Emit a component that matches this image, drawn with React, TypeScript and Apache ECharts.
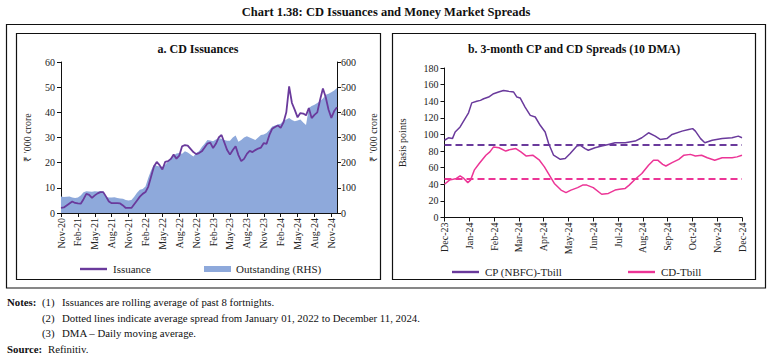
import React, { useEffect, useRef } from "react";
import * as echarts from "echarts";

// ---------- Panel a: CD Issuances (fortnightly, from Nov-20) ----------
const ticksA = ["Nov-20","Feb-21","May-21","Aug-21","Nov-21","Feb-22","May-22","Aug-22","Nov-22","Feb-23","May-23","Aug-23","Nov-23","Feb-24","May-24","Aug-24","Nov-24"];
const issuance = [2.0,2.2,3.0,3.8,4.6,4.0,3.8,3.7,5.5,7.6,
  7.2,6.0,7.0,7.8,8.3,8.3,6.5,4.6,3.9,3.9,
  3.9,3.8,3.0,2.0,2.0,2.0,3.5,5.0,6.5,7.6,
  8.3,10.5,14.5,18.5,20.3,19.0,17.3,20.3,20.6,21.5,
  23.2,21.6,22.8,26.5,27.0,26.8,25.5,24.2,23.4,23.8,
  24.5,26.0,27.6,28.0,25.8,27.5,30.0,31.0,28.0,25.0,
  23.2,25.0,26.5,23.0,20.6,21.5,23.5,24.7,24.2,25.0,
  25.6,26.0,27.8,27.5,31.0,33.5,34.2,34.8,33.8,36.0,
  40.0,50.3,43.7,41.0,38.0,39.7,39.5,38.8,41.7,37.7,
  39.0,40.0,45.0,49.5,46.0,41.0,37.8,40.5,42.0];
const outstanding = [66,64,65,66,62,60,62,70,82,86,
  85,84,86,85,86,85,64,62,62,63,
  60,58,57,52,50,52,65,80,92,95,
  105,140,170,192,188,185,184,192,205,220,
  228,236,238,235,245,240,232,225,238,245,
  262,275,290,288,285,292,298,295,290,287,
  287,300,308,283,290,300,305,300,295,290,
  300,310,312,318,330,344,348,352,355,368,
  372,377,370,365,368,372,360,350,417,425,
  430,437,445,455,470,474,480,487,497];

// ---------- Panel b: 3-month CP and CD spreads (month offset from Dec-23, bps) ----------
const ticksB = ["Dec-23","Jan-24","Feb-24","Mar-24","Apr-24","May-24","Jun-24","Jul-24","Aug-24","Sep-24","Oct-24","Nov-24","Dec-24"];
const cpSpread = [[0,93],[0.16,96],[0.32,95],[0.43,103],[0.63,109],[0.83,119],[0.97,126],[1.1,138],[1.3,140],[1.45,141],[1.58,143],[1.78,145],[1.98,149],[2.18,151],[2.38,153],[2.58,152],[2.79,151],[2.92,145],[3.05,144],[3.25,133],[3.46,123],[3.66,121],[3.86,111],[4.06,103],[4.2,89],[4.4,75],[4.67,70],[4.87,71],[5.07,77],[5.34,86],[5.47,87],[5.67,83],[5.8,81],[6.07,84],[6.34,86],[6.61,88],[6.88,90],[7.29,90],[7.69,92],[7.96,96],[8.23,102],[8.5,98],[8.7,94],[8.97,95],[9.18,100],[9.58,104],[9.85,106],[10.01,107],[10.12,104],[10.33,95],[10.5,90],[10.8,93],[11.2,95],[11.6,96],[11.85,98],[12,96]];
const cdSpread = [[0,40],[0.2,45],[0.48,47],[0.63,50],[0.78,47],[0.94,42],[1.05,45],[1.2,57],[1.4,65],[1.67,75],[1.83,79],[1.98,85],[2.2,84],[2.47,80],[2.67,82],[2.88,83],[3.08,79],[3.3,74],[3.56,75],[3.83,69],[4.03,61],[4.23,51],[4.43,41],[4.7,33],[4.9,30],[5.1,33],[5.37,36],[5.57,39],[5.74,39],[6.0,36],[6.34,28],[6.61,29],[6.88,33],[7.05,34],[7.29,35],[7.45,39],[7.69,46],[7.96,53],[8.23,63],[8.43,69],[8.6,69],[8.8,64],[8.93,62],[9.18,66],[9.45,70],[9.66,75],[9.92,76],[10.12,74],[10.37,75],[10.6,72],[10.9,69],[11.2,72],[11.6,72],[11.8,73],[12,75]];
const cpAverage = 88;
const cdAverage = 47;

const notes = [
  "Issuances are rolling average of past 8 fortnights.",
  "Dotted lines indicate average spread from January 01, 2022 to December 11, 2024.",
  "DMA \u2013 Daily moving average.",
];

const FONT = "Liberation Serif";
const PURPLE = "#6A3A9C";
const PINK = "#EC3596";
const AREA = "#8EA9DB";
const INK = "#222";

export default function App() {
  const ref = useRef<HTMLDivElement>(null);
  useEffect(() => {
    if (!ref.current) return;
    const chart = echarts.init(ref.current, null, { renderer: "svg" });
    const axisLine = { show: true, lineStyle: { color: "#111", width: 1 } };
    const axisTick = { show: true, length: 4, lineStyle: { color: "#111" } };
    const lbl = { color: INK, fontFamily: FONT, fontSize: 10 };
    const issuanceData = issuance.map((v, i) => [i * 0.5, v]);
    const outstandingData = outstanding.map((v, i) => [i * 0.5, v]);
    const legFont = `11px "${FONT}"`;
    const noteFont = `10.8px "${FONT}"`;
    const noteBold = `bold 10.8px "${FONT}"`;

    const legendLine = (x: number, y: number, color: string, text: string) => [
      { type: "rect", shape: { x, y: y - 1.2, width: 27, height: 2.4 }, style: { fill: color } },
      { type: "text", x: x + 33, y, style: { text, font: legFont, fill: INK, verticalAlign: "middle" } },
    ];

    const option: any = {
      animation: false,
      backgroundColor: "#fff",
      textStyle: { fontFamily: FONT },
      grid: [
        { left: 61, top: 62, width: 276, height: 151 },
        { left: 444.5, top: 68, width: 297.5, height: 149.5 },
      ],
      xAxis: [
        {
          gridIndex: 0, type: "value", min: 0, max: 49, interval: 3,
          axisLine, axisTick, splitLine: { show: false },
          axisLabel: { ...lbl, rotate: 90, margin: 5, showMaxLabel: false,
            formatter: (v: number) => ticksA[Math.round(v / 3)] ?? "" },
        },
        {
          gridIndex: 1, type: "value", min: 0, max: 12, interval: 1,
          axisLine, axisTick, splitLine: { show: false },
          axisLabel: { ...lbl, rotate: 90, margin: 5,
            formatter: (v: number) => ticksB[Math.round(v)] ?? "" },
        },
      ],
      yAxis: [
        {
          gridIndex: 0, type: "value", min: 0, max: 60, interval: 10,
          axisLine, axisTick, splitLine: { show: false },
          axisLabel: { ...lbl, margin: 6 },
          name: "\u20B9 '000 crore", nameLocation: "middle", nameRotate: 90, nameGap: 29,
          nameTextStyle: { ...lbl },
        },
        {
          gridIndex: 0, type: "value", min: 0, max: 600, interval: 100, position: "right",
          axisLine, axisTick, splitLine: { show: false },
          axisLabel: { ...lbl, margin: 4 },
          name: "\u20B9 '000 crore", nameLocation: "middle", nameRotate: 90, nameGap: 31,
          nameTextStyle: { ...lbl },
        },
        {
          gridIndex: 1, type: "value", min: 0, max: 180, interval: 20,
          axisLine, axisTick, splitLine: { show: false },
          axisLabel: { ...lbl, margin: 6 },
          name: "Basis points", nameLocation: "middle", nameRotate: 90, nameGap: 37,
          nameTextStyle: { ...lbl },
        },
      ],
      series: [
        {
          name: "Outstanding (RHS)", type: "line", xAxisIndex: 0, yAxisIndex: 1,
          data: outstandingData, symbol: "none", lineStyle: { width: 0, color: AREA },
          itemStyle: { color: AREA }, areaStyle: { color: AREA, opacity: 1 }, z: 1,
        },
        {
          name: "Issuance", type: "line", xAxisIndex: 0, yAxisIndex: 0,
          data: issuanceData, symbol: "none", lineStyle: { width: 1.8, color: PURPLE },
          itemStyle: { color: PURPLE }, z: 3,
        },
        {
          name: "CP (NBFC)-Tbill", type: "line", xAxisIndex: 1, yAxisIndex: 2,
          data: cpSpread, symbol: "none", lineStyle: { width: 1.5, color: PURPLE },
          itemStyle: { color: PURPLE },
          markLine: {
            silent: true, symbol: ["none", "none"], label: { show: false },
            lineStyle: { type: [7, 4], width: 2, color: PURPLE },
            data: [{ yAxis: cpAverage }],
          },
        },
        {
          name: "CD-Tbill", type: "line", xAxisIndex: 1, yAxisIndex: 2,
          data: cdSpread, symbol: "none", lineStyle: { width: 1.5, color: PINK },
          itemStyle: { color: PINK },
          markLine: {
            silent: true, symbol: ["none", "none"], label: { show: false },
            lineStyle: { type: [7, 4], width: 2, color: PINK },
            data: [{ yAxis: cdAverage }],
          },
        },
      ],
      graphic: [
        { type: "text", left: "center", top: 5,
          style: { text: "Chart 1.38: CD Issuances and Money Market Spreads", font: `bold 12.5px "${FONT}"`, fill: "#111" } },
        { type: "rect", shape: { x: 6.5, y: 24.5, width: 759, height: 263.5 },
          style: { fill: "none", stroke: "#111", lineWidth: 1.2 }, z: 10 },
        { type: "rect", shape: { x: 16.5, y: 33.5, width: 364, height: 246 },
          style: { fill: "none", stroke: "#111", lineWidth: 1.2 }, z: 10 },
        { type: "rect", shape: { x: 392.5, y: 33.5, width: 363, height: 246 },
          style: { fill: "none", stroke: "#111", lineWidth: 1.2 }, z: 10 },
        { type: "text", x: 198, y: 43, style: { text: "a. CD Issuances", font: `bold 12px "${FONT}"`, fill: "#111", align: "center" } },
        { type: "text", x: 574, y: 43, style: { text: "b. 3-month CP and CD Spreads (10 DMA)", font: `bold 11.8px "${FONT}"`, fill: "#111", align: "center" } },
        ...legendLine(80, 269, PURPLE, "Issuance"),
        { type: "rect", shape: { x: 204, y: 266, width: 27, height: 6 }, style: { fill: AREA } },
        { type: "text", x: 236, y: 269, style: { text: "Outstanding (RHS)", font: legFont, fill: INK, verticalAlign: "middle" } },
        ...legendLine(452, 272, PURPLE, "CP (NBFC)-Tbill"),
        ...legendLine(628, 272, PINK, "CD-Tbill"),
        { type: "text", x: 7, y: 302, style: { text: "Notes:", font: noteBold, fill: "#111", verticalAlign: "middle" } },
        ...notes.map((t, i) => ({ type: "text", x: 42, y: 302 + i * 15.5,
          style: { text: `(${i + 1})`, font: noteFont, fill: "#111", verticalAlign: "middle" } })),
        ...notes.map((t, i) => ({ type: "text", x: 62, y: 302 + i * 15.5,
          style: { text: t, font: noteFont, fill: "#111", verticalAlign: "middle" } })),
        { type: "text", x: 7, y: 348.5, style: { text: "Source:", font: noteBold, fill: "#111", verticalAlign: "middle" } },
        { type: "text", x: 48, y: 348.5, style: { text: "Refinitiv.", font: noteFont, fill: "#111", verticalAlign: "middle" } },
      ],
    };
    chart.setOption(option);
    return () => chart.dispose();
  }, []);
  return <div ref={ref} style={{ position: "absolute", left: 0, top: 0, width: 772, height: 357 }} />;
}
